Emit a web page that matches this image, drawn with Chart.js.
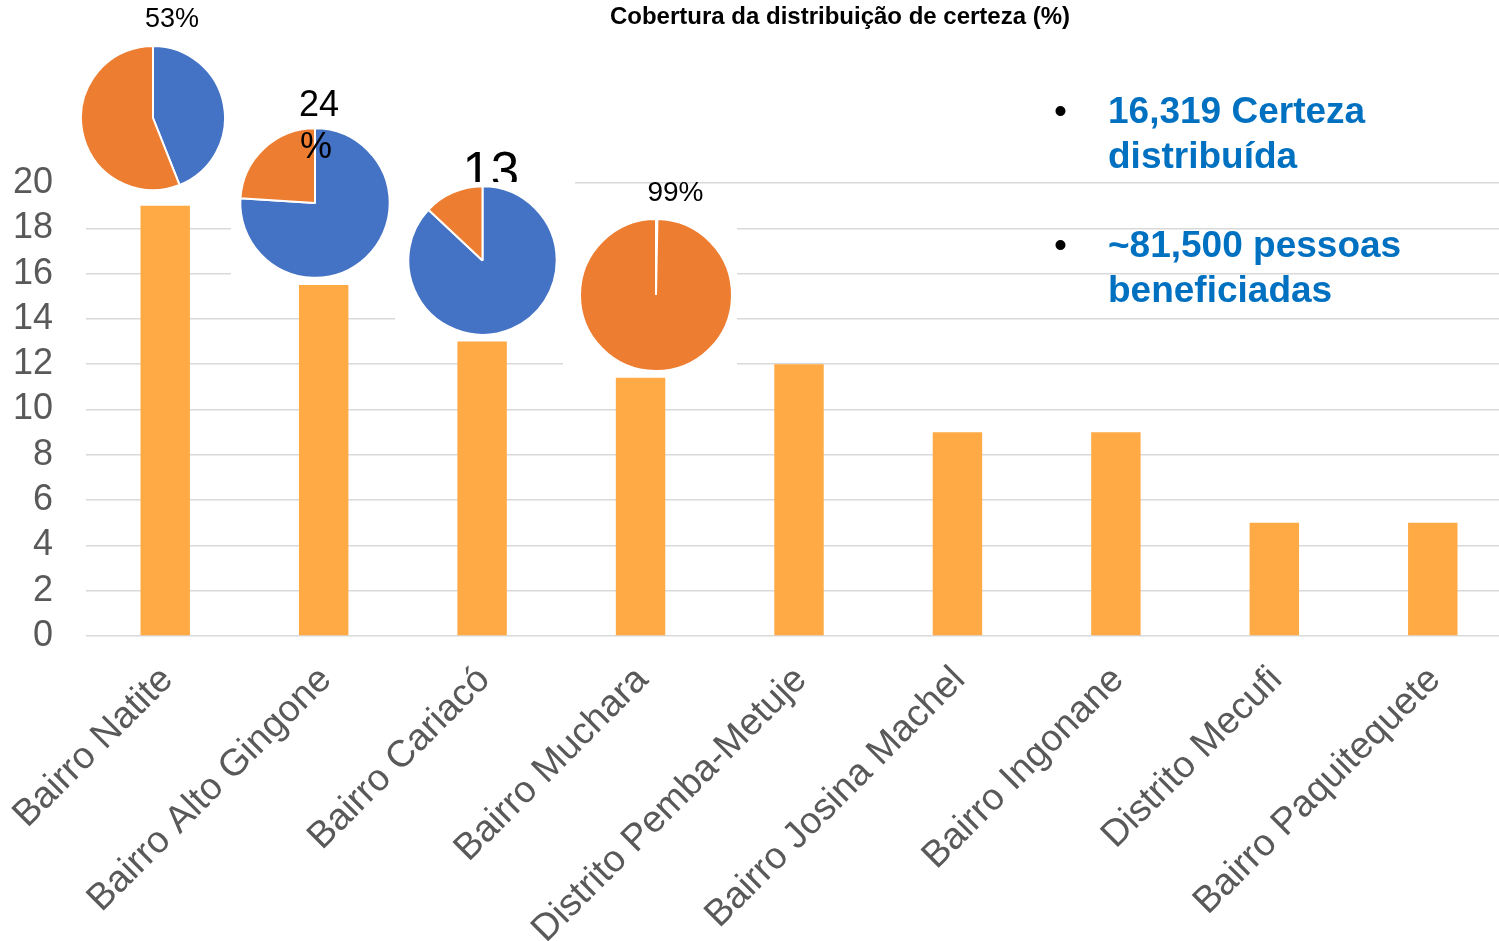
<!DOCTYPE html>
<html><head><meta charset="utf-8">
<script src="https://cdn.jsdelivr.net/npm/chart.js@4.4.1/dist/chart.umd.min.js"></script>
<style>
html,body{margin:0;padding:0;background:#fff;overflow:hidden;width:1499px;height:941px;}
#wrap{position:absolute;left:0;top:0;width:1512px;height:941px;}
.box{position:absolute;background:#fff;}
.lbl{position:absolute;font-family:'Liberation Sans',Arial,sans-serif;color:#000;white-space:pre;line-height:1;}
</style></head><body>
<div id="wrap"><canvas id="main"></canvas></div>
<div id="overlay"></div>
<script>
// ---- data ----
const categories = ['Bairro Natite','Bairro Alto Gingone','Bairro Cariacó','Bairro Muchara','Distrito Pemba-Metuje','Bairro Josina Machel','Bairro Ingonane','Distrito Mecufi','Bairro Paquitequete'];
const coverage = [19, 15.5, 13, 11.4, 12, 9, 9, 5, 5];
const yTicks = [0,2,4,6,8,10,12,14,16,18,20];
const pieBlue = [44, 76, 87, 0.3];
const pieOrange = [56, 24, 13, 99.7];
const pieLabels = ['53%', '24\n%', '13', '99%'];
const titleText = 'Cobertura da distribuição de certeza (%)';
const bullets = [['16,319 Certeza','distribuída'], ['~81,500 pessoas','beneficiadas']];

const FONT = "'Liberation Sans', Arial, sans-serif";
Chart.defaults.font.family = FONT;

new Chart(document.getElementById('main'), {
  type: 'bar',
  data: { labels: categories, datasets: [{ data: coverage, backgroundColor: '#FFAA44', borderWidth: 0, categoryPercentage: 1, barPercentage: 0.312 }] },
  options: {
    responsive: true, maintainAspectRatio: false, animation: false,
    layout: { padding: { top: 183, left: 0, right: 0, bottom: 0 } },
    plugins: { legend: { display: false }, tooltip: { enabled: false } },
    scales: {
      x: {
        grid: { display: false, drawTicks: false }, border: { display: false },
        ticks: { color: '#595959', font: { size: 37.5 }, minRotation: 45, maxRotation: 45, autoSkip: false, padding: 22, labelOffset: 2 },
        afterFit: s => { s.height = 305; s.paddingLeft = 0; s.paddingRight = 0; }
      },
      y: {
        min: 0, max: 20,
        afterBuildTicks: s => { s.ticks = yTicks.map(v => ({ value: v })); },
        grid: { color: '#d9d9d9', lineWidth: 1.5, drawTicks: false }, border: { display: false },
        ticks: { color: '#595959', font: { size: 36 }, padding: 33, autoSkip: false, stepSize: 2 },
        afterFit: s => { s.width = 86; s.paddingTop = 0; s.paddingBottom = 0; }
      }
    }
  }
});

// ---- overlays (pies with white backdrops, labels, text) ----
const ov = document.getElementById('overlay');
function box(x0, y0, x1, y1, z) { const d = document.createElement('div'); d.className = 'box'; d.style.cssText = `left:${x0}px;top:${y0}px;width:${x1-x0}px;height:${y1-y0}px;z-index:${z}`; ov.appendChild(d); return d; }
function text(str, opts) {
  const d = document.createElement('div'); d.className = 'lbl'; d.textContent = str;
  const top = opts.baseline - 0.8465 * opts.size;
  d.style.cssText = `font-size:${opts.size}px;top:${top}px;z-index:${opts.z||10};font-weight:${opts.bold?'bold':'normal'};color:${opts.color||'#000'};`;
  if (opts.center !== undefined) { d.style.left = opts.center + 'px'; d.style.transform = 'translateX(-50%)'; }
  else d.style.left = opts.left + 'px';
  ov.appendChild(d); return d;
}

const pieLayout = [
  { cx: 152.5, cy: 117.5, r: 72,   rect: [70, 35, 231, 200] },
  { cx: 314.7, cy: 203,   r: 74.7, rect: [231, 120, 395, 284] },
  { cx: 482.5, cy: 260.8, r: 74.2, rect: [395, 182, 575, 340] },
  { cx: 655.5, cy: 295,   r: 76,   rect: [563, 186, 737, 376] }
];
pieLayout.forEach((p, i) => {
  const b = box(p.rect[0], p.rect[1], p.rect[2], p.rect[3], 5 + i);
  const s = Math.ceil(2 * (p.r + 3));
  const c = document.createElement('canvas');
  c.width = s; c.height = s;
  c.style.cssText = `position:absolute;left:${p.cx - s/2 - p.rect[0]}px;top:${p.cy - s/2 - p.rect[1]}px;`;
  b.appendChild(c);
  new Chart(c, {
    type: 'pie',
    data: { labels: ['blue','orange'], datasets: [{ data: [pieBlue[i], pieOrange[i]], backgroundColor: ['#4472C4','#ED7D31'], borderColor: '#ffffff', borderWidth: 2, radius: p.r }] },
    options: { responsive: false, animation: false, layout: { padding: 0 }, plugins: { legend: { display: false }, tooltip: { enabled: false } } }
  });
});

// pie labels
text(pieLabels[0], { size: 27, center: 172, baseline: 28.3, z: 20 });
const l2 = pieLabels[1].split('\n');
text(l2[0], { size: 36, left: 299, baseline: 116, z: 20 });
text(l2[1], { size: 36, left: 300, baseline: 158, z: 20 });
text(pieLabels[2], { size: 51, left: 462.4, baseline: 188, z: 6 });
text(pieLabels[3], { size: 28, center: 675.5, baseline: 201.7, z: 20 });

// title
text(titleText, { size: 24, center: 840, baseline: 24, bold: true, z: 20 });

// bullets
const baselines = [[123, 168], [257, 302]];
bullets.forEach((lines, i) => {
  text('•', { size: 37, left: 1054, baseline: baselines[i][0], z: 20 });
  lines.forEach((ln, j) => text(ln, { size: 37, left: 1108, baseline: baselines[i][j], bold: true, color: '#0070C0', z: 20 }));
});
</script>
</body></html>
